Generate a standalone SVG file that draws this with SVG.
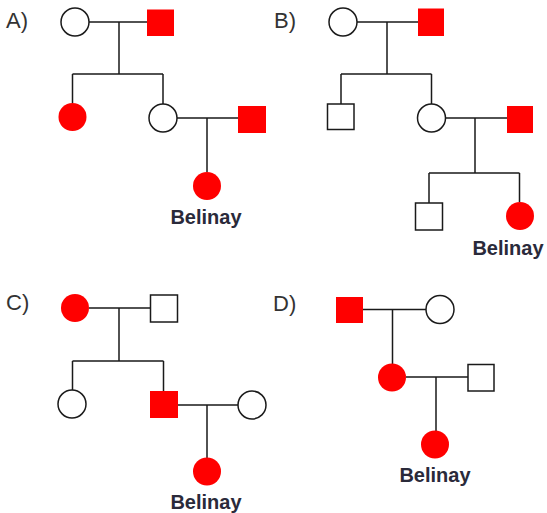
<svg xmlns="http://www.w3.org/2000/svg" width="547" height="513" viewBox="0 0 547 513">
  <style>
    .line { stroke: #1a1a1a; stroke-width: 1.5; fill: none; }
    .open { fill: #ffffff; stroke: #1a1a1a; stroke-width: 1.5; }
    .aff { fill: #ff0000; stroke: none; }
    .panel { font-family: "Liberation Sans", Arial, sans-serif; font-size: 22px; fill: #333333; }
    .name { font-family: "Liberation Sans", Arial, sans-serif; font-size: 20px; font-weight: bold; fill: #2a2a3a; text-anchor: middle; }
  </style>
  <rect width="547" height="513" fill="#ffffff"/>

  <!-- connectors -->
  <g id="connectors" class="line">
    <!-- A -->
    <path d="M89 22 H147 M119 22 V74 M72.5 74 H163 M72.5 74 V103 M163 74 V104 M177 118 H238 M207 118 V172"/>
    <!-- B -->
    <path d="M357 22 H418 M387 22 V74 M341 74 H431.5 M341 74 V104 M431.5 74 V104 M445 118 H507 M475 118 V173 M429 173 H519.5 M429 173 V203 M519.5 173 V202"/>
    <!-- C -->
    <path d="M89 308 H150 M119 308 V361 M72.5 361 H163.5 M72.5 361 V390 M163.5 361 V391 M178 405 H238 M207 405 V458"/>
    <!-- D -->
    <path d="M363 309.5 H426 M392.5 309.5 V364 M406 377 H468 M436 377 V431"/>
  </g>

  <!-- panel labels -->
  <text class="panel" x="6" y="28">A)</text>
  <text class="panel" x="274" y="28">B)</text>
  <text class="panel" x="6" y="310">C)</text>
  <text class="panel" x="273" y="311">D)</text>

  <!-- pedigree A -->
  <g id="a-mother"><circle class="open" cx="75" cy="22" r="14"/></g>
  <g id="a-father"><rect class="aff" x="147" y="9.5" width="27" height="26.5"/></g>
  <g id="a-daughter1"><circle class="aff" cx="72.5" cy="117" r="14"/></g>
  <g id="a-daughter2"><circle class="open" cx="163" cy="118" r="14"/></g>
  <g id="a-husband"><rect class="aff" x="238" y="106" width="28" height="27"/></g>
  <g id="a-belinay">
    <circle class="aff" cx="207" cy="186" r="14"/>
    <text class="name" x="206" y="224">Belinay</text>
  </g>

  <!-- pedigree B -->
  <g id="b-mother"><circle class="open" cx="343" cy="22" r="14"/></g>
  <g id="b-father"><rect class="aff" x="418" y="8.5" width="26" height="27.5"/></g>
  <g id="b-son"><rect class="open" x="327.5" y="104" width="26.5" height="25.5"/></g>
  <g id="b-daughter"><circle class="open" cx="431.5" cy="118" r="14"/></g>
  <g id="b-husband"><rect class="aff" x="507" y="106" width="26" height="27"/></g>
  <g id="b-grandson"><rect class="open" x="415.5" y="203" width="27" height="27"/></g>
  <g id="b-belinay">
    <circle class="aff" cx="520" cy="216" r="14"/>
    <text class="name" x="508" y="255">Belinay</text>
  </g>

  <!-- pedigree C -->
  <g id="c-mother"><circle class="aff" cx="75" cy="308" r="14"/></g>
  <g id="c-father"><rect class="open" x="150.5" y="295" width="27" height="27"/></g>
  <g id="c-daughter"><circle class="open" cx="72" cy="404" r="14"/></g>
  <g id="c-son"><rect class="aff" x="150" y="391" width="28" height="27"/></g>
  <g id="c-wife"><circle class="open" cx="252" cy="405" r="14"/></g>
  <g id="c-belinay">
    <circle class="aff" cx="207" cy="471.5" r="14"/>
    <text class="name" x="206" y="509">Belinay</text>
  </g>

  <!-- pedigree D -->
  <g id="d-father"><rect class="aff" x="336" y="297" width="27" height="26"/></g>
  <g id="d-mother"><circle class="open" cx="440" cy="309.5" r="14"/></g>
  <g id="d-daughter"><circle class="aff" cx="392" cy="377.5" r="14"/></g>
  <g id="d-husband"><rect class="open" x="468" y="364.5" width="26" height="26.5"/></g>
  <g id="d-belinay">
    <circle class="aff" cx="435" cy="444.5" r="14"/>
    <text class="name" x="435" y="482">Belinay</text>
  </g>
</svg>
